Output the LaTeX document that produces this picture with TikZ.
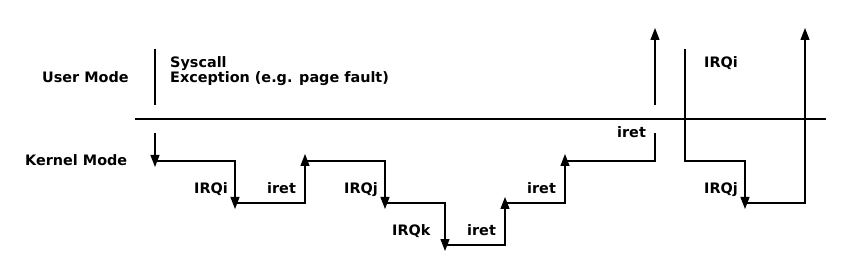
\documentclass[tikz,border=0pt]{standalone}
\usepackage{fontspec}
\setmainfont{DejaVu Sans}
\usetikzlibrary{arrows.meta}
\begin{document}
\begin{tikzpicture}[x=1pt,y=-1pt,
  ln/.style={line width=1.2pt, line join=miter},
  arr/.style={ln, -{Triangle[width=9pt,length=12pt]}},
  lbl/.style={font=\fontsize{14.4}{15}\selectfont\bfseries, inner sep=0pt, anchor=base west}]
\useasboundingbox (0,0) rectangle (850,280);
% mode separator
\coordinate (h0) at (135,119);
\coordinate (h1) at (826,119);
\draw[ln] (h0) -- (h1);
% user-mode start
\coordinate (u0) at (155,49);
\coordinate (u1) at (155,105);
\draw[ln] (u0) -- (u1);
% main path
\coordinate (k0) at (155,133);
\coordinate (k0t) at (155,167);
\coordinate (p1) at (155,161);
\coordinate (p2) at (235,161);
\coordinate (p2t) at (235,209);
\coordinate (p3) at (235,203);
\coordinate (p4) at (305,203);
\coordinate (p4t) at (305,154);
\coordinate (p5) at (305,161);
\coordinate (p6) at (385,161);
\coordinate (p6t) at (385,209);
\coordinate (p7) at (385,203);
\coordinate (p8) at (445,203);
\coordinate (p8t) at (445,251);
\coordinate (p9) at (445,245);
\coordinate (p10) at (505,245);
\coordinate (p10t) at (505,197);
\coordinate (p11) at (505,203);
\coordinate (p12) at (565,203);
\coordinate (p12t) at (565,154);
\coordinate (p13) at (565,161);
\coordinate (p14) at (655,161);
\coordinate (p15) at (655,133);
\coordinate (r0) at (655,105);
\coordinate (r1) at (655,28);
\draw[arr] (k0) -- (k0t);
\draw[arr] (p1) -- (p2) -- (p2t);
\draw[arr] (p3) -- (p4) -- (p4t);
\draw[arr] (p5) -- (p6) -- (p6t);
\draw[arr] (p7) -- (p8) -- (p8t);
\draw[arr] (p9) -- (p10) -- (p10t);
\draw[arr] (p11) -- (p12) -- (p12t);
\draw[ln] (p13) -- (p14) -- (p15);
\draw[arr] (r0) -- (r1);
% second path
\coordinate (q0) at (685,49);
\coordinate (q1) at (685,161);
\coordinate (q2) at (745,161);
\coordinate (q2t) at (745,209);
\coordinate (q3) at (745,203);
\coordinate (q4) at (805,203);
\coordinate (q5) at (805,28);
\draw[arr] (q0) -- (q1) -- (q2) -- (q2t);
\draw[arr] (q3) -- (q4) -- (q5);
% labels
\node[lbl] (um) at (42,83) {User Mode};
\node[lbl] (km) at (25,166) {Kernel Mode};
\node[lbl] (sc) at (170,68) {Syscall};
\node[lbl] (ex) at (170,83) {Exception (e.g. page fault)};
\node[lbl] (l1) at (194,194) {IRQi};
\node[lbl] (l2) at (267,194) {iret};
\node[lbl] (l3) at (344,194) {IRQj};
\node[lbl] (l4) at (392,236) {IRQk};
\node[lbl] (l5) at (467,236) {iret};
\node[lbl] (l6) at (527,194) {iret};
\node[lbl] (l7) at (617,138) {iret};
\node[lbl] (l8) at (704,68) {IRQi};
\node[lbl] (l9) at (704,194) {IRQj};
\end{tikzpicture}
\end{document}
